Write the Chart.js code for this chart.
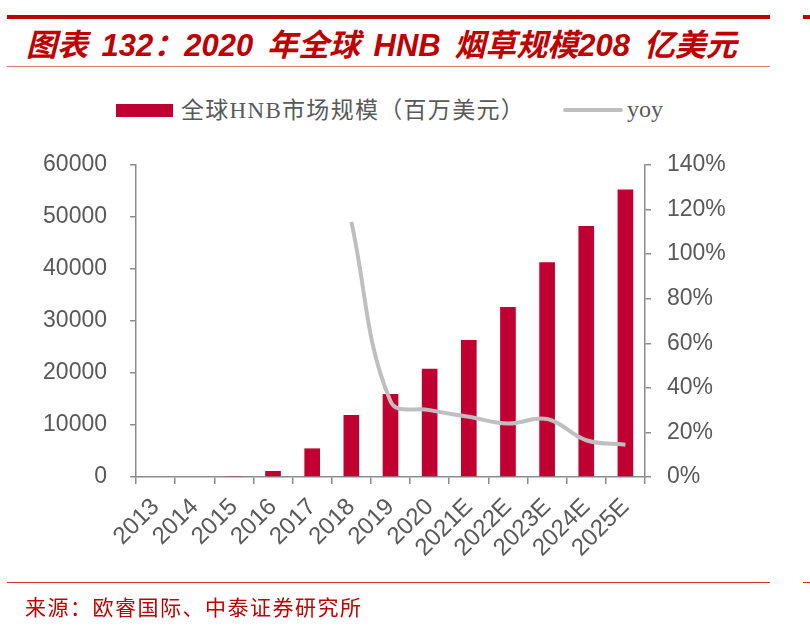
<!DOCTYPE html>
<html>
<head>
<meta charset="utf-8">
<script src="https://cdn.jsdelivr.net/npm/chart.js@4.4.1/dist/chart.umd.min.js"></script>
<style>
  body { margin: 0; background: #fff; }
  #page { position: relative; width: 810px; height: 633px; overflow: hidden; background: #fff; }
  .rule { position: absolute; }
  #title {
    position: absolute; left: 26px; top: 20px; white-space: nowrap;
    font: italic bold 31px "Liberation Sans", "Noto Sans CJK SC", sans-serif;
    color: #C00000; word-spacing: 5px;
  }
  .legend-text {
    position: absolute; top: 91px; white-space: nowrap;
    font: 23px "Liberation Serif", "Noto Sans CJK SC", serif; color: #595959;
  }
  #source {
    position: absolute; left: 25px; top: 591px; white-space: nowrap;
    font: 21px "Liberation Serif", "Noto Sans CJK SC", serif; color: #C00000; letter-spacing: 1.5px;
  }
  canvas { position: absolute; left: 0; top: 0; }
</style>
</head>
<body>
<div id="page">
  <div class="rule" style="left:7px; top:15px; width:763px; height:4px; background:#C00000"></div>
  <div class="rule" style="left:803px; top:15px; width:7px; height:4px; background:#C00000"></div>
  <div id="title">图表 132：2020 年全球 HNB 烟草规模208 亿美元</div>
  <div class="rule" style="left:7px; top:66px; width:763px; height:1px; background:#E57373"></div>

  <div class="rule" style="left:116px; top:104px; width:57px; height:13px; background:#C00030"></div>
  <div class="legend-text" style="left:181px; letter-spacing:1.3px">全球HNB市场规模（百万美元）</div>
  <div class="rule" style="left:563px; top:108px; width:60px; height:4px; background:#BFBFBF; border-radius:2px"></div>
  <div class="legend-text" style="left:627px; top:96px; font-size:24px">yoy</div>

  <canvas id="chart" width="810" height="633"></canvas>

  <div class="rule" style="left:7px; top:582px; width:763px; height:1px; background:#D32F2F"></div>
  <div class="rule" style="left:803px; top:582px; width:7px; height:1px; background:#D32F2F"></div>
  <div id="source">来源：欧睿国际、中泰证券研究所</div>
</div>

<script>
// 数据
const years = ['2013', '2014', '2015', '2016', '2017', '2018', '2019', '2020', '2021E', '2022E', '2023E', '2024E', '2025E'];
const marketSize = [0, 0, 200, 1150, 5500, 11900, 15950, 20800, 26350, 32700, 41300, 48250, 55300]; // 百万美元
const yoy = [null, null, null, null, null, 114.5, 34, 30, 27, 24, 26, 16.5, 14.5]; // %

const leftTicks = { min: 0, max: 60000, step: 10000 };
const rightTicks = { min: 0, max: 140, step: 20 };

const AXIS_GRAY = '#8C8C8C';
const LABEL_GRAY = '#595959';
const yFont = { family: 'Liberation Sans', size: 23 };
const xFont = { family: 'Liberation Sans', size: 24 };

new Chart(document.getElementById('chart'), {
    data: {
        labels: years,
        datasets: [
            {
                type: 'line',
                label: 'yoy',
                data: yoy,
                yAxisID: 'y1',
                borderColor: '#BFBFBF',
                borderWidth: 4,
                pointRadius: 0,
                tension: 0.4,
                order: 1,
            },
            {
                type: 'bar',
                label: '全球HNB市场规模（百万美元）',
                data: marketSize,
                yAxisID: 'y',
                backgroundColor: '#C00030',
                categoryPercentage: 1,
                barPercentage: 0.4,
                order: 2,
            }
        ]
    },
    options: {
        responsive: false,
        animation: false,
        events: [],
        layout: { padding: { left: 0, top: 165, right: 65, bottom: 66 } },
        plugins: { legend: { display: false }, tooltip: { enabled: false } },
        scales: {
            x: {
                offset: true,
                grid: { display: true, drawOnChartArea: false, offset: true, tickLength: 7, color: AXIS_GRAY, lineWidth: 1.5 },
                border: { display: true, color: AXIS_GRAY, width: 1.5 },
                ticks: { color: LABEL_GRAY, font: xFont, minRotation: 45, maxRotation: 45, autoSkip: false, padding: 9 },
                afterFit: (s) => { s.height = 90; },
            },
            y: {
                position: 'left',
                min: leftTicks.min, max: leftTicks.max,
                grid: { display: true, drawOnChartArea: false, tickLength: 6, color: AXIS_GRAY, lineWidth: 1.5 },
                border: { display: true, color: AXIS_GRAY, width: 1.5 },
                ticks: { stepSize: leftTicks.step, color: LABEL_GRAY, font: yFont, padding: 23, callback: (v) => String(v) },
                afterFit: (s) => { s.width = 136; },
            },
            y1: {
                position: 'right',
                min: rightTicks.min, max: rightTicks.max,
                grid: { display: true, drawOnChartArea: false, tickLength: 6, color: AXIS_GRAY, lineWidth: 1.5 },
                border: { display: true, color: AXIS_GRAY, width: 1.5 },
                ticks: { stepSize: rightTicks.step, color: LABEL_GRAY, font: yFont, padding: 16, callback: (v) => v + '%' },
                afterFit: (s) => { s.width = 100; },
            }
        }
    }
});
</script>
</body>
</html>
